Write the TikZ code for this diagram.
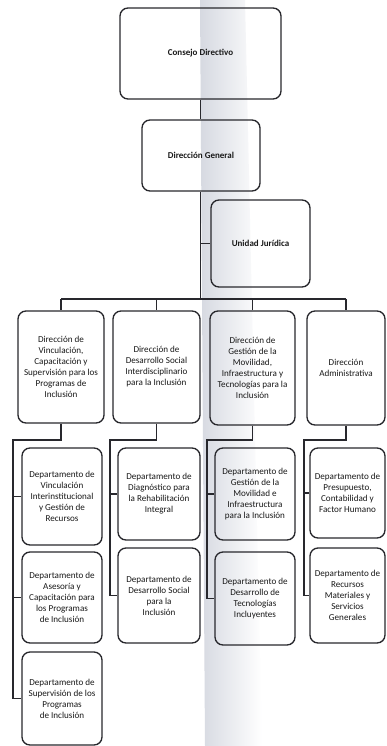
\documentclass[tikz,border=0pt]{standalone}
\usepackage{fontspec}
\setmainfont{Carlito}
\definecolor{bandcol}{RGB}{214,217,225}
\definecolor{inkcol}{RGB}{40,40,45}
\tikzset{
  box/.style={draw=inkcol, line width=1.35pt, rounded corners=8pt, align=center,
    inner sep=1pt, font=\fontsize{9.1}{11}\selectfont, text=black!90},
  topbox/.style={box, font=\bfseries\fontsize{9}{11}\selectfont},
  conn/.style={draw=inkcol, line width=1.25pt}
}
\newcommand{\bx}[7][box]{\node[#1, minimum width=#5pt, minimum height=#6pt] (#2) at (#3,#4) {#7};}
\begin{document}
\begin{tikzpicture}[x=1pt,y=-1pt]
\useasboundingbox (0,0) rectangle (387,746);
\fill[white] (0,0) rectangle (387,746);
\shade[left color=bandcol, right color=white] (200,0) -- (245,0) -- (262,746) -- (205,746) -- cycle;

\bx[topbox]{cd}{200.5}{53.5}{161}{91}{Consejo Directivo}
\bx[topbox]{dg}{201}{155.5}{118}{71}{Dirección General}
\bx[topbox]{uj}{260.5}{243.5}{99}{87}{Unidad Jurídica}

\bx{d1}{61}{367}{86}{112}{Dirección de\\Vinculación,\\Capacitación y\\Supervisión para los\\Programas de\\Inclusión}
\bx{d2}{156.5}{367}{87}{112}{Dirección de\\Desarrollo Social\\Interdisciplinario\\para la Inclusión}
\bx{d3}{252.5}{368}{85}{114}{Dirección de\\Gestión de la\\Movilidad,\\Infraestructura y\\Tecnologías para la\\Inclusión}
\bx{d4}{346}{368}{78}{114}{Dirección\\Administrativa}

\bx{c11}{62}{496.5}{80}{97}{Departamento de\\Vinculación\\Interinstitucional\\y Gestión de\\Recursos}
\bx{c12}{62}{597.5}{80}{91}{Departamento de\\Asesoría y\\Capacitación para\\los Programas\\de Inclusión}
\bx{c13}{62}{698.5}{80}{93}{Departamento de\\Supervisión de los\\Programas\\de Inclusión}
\bx{c21}{159}{494}{82}{92}{Departamento de\\Diagnóstico para\\la Rehabilitación\\Integral}
\bx{c22}{159}{595.5}{82}{95}{Departamento de\\Desarrollo Social\\para la\\Inclusión}
\bx{c31}{255}{494}{80}{92}{Departamento de\\Gestión de la\\Movilidad e\\Infraestructura\\para la Inclusión}
\bx{c32}{255}{598.5}{80}{93}{Departamento de\\Desarrollo de\\Tecnologías\\Incluyentes}
\bx{c41}{347.5}{493}{75}{90}{Departamento de\\Presupuesto,\\Contabilidad y\\Factor Humano}
\bx{c42}{347.5}{595.5}{75}{95}{Departamento de\\Recursos\\Materiales y\\Servicios\\Generales}

% trunk
\coordinate (busL) at (61,299);
\coordinate (busR) at (346,299);
\coordinate (busT) at (200.5,299);
\draw[conn] (cd.south) -- (cd.south |- dg.north);
\draw[conn] (cd.south |- dg.south) -- (busT);
\draw[conn] (cd.south |- uj.west) -- (uj.west);
\draw[conn] (busL) -- (busR);
\draw[conn] (busL) -- (d1.north);
\draw[conn] (d2.north |- busL) -- (d2.north);
\draw[conn] (d3.north |- busL) -- (d3.north);
\draw[conn] (busR) -- (d4.north);

% column 1
\coordinate (k1) at (13,440);
\draw[conn] (d1.south) |- (k1) -- (k1 |- c13.west) -- (c13.west);
\draw[conn] (k1 |- c11.west) -- (c11.west);
\draw[conn] (k1 |- c12.west) -- (c12.west);
% column 2
\coordinate (k2) at (110,440);
\draw[conn] (d2.south) |- (k2) -- (k2 |- c22.west) -- (c22.west);
\draw[conn] (k2 |- c21.west) -- (c21.west);
% column 3
\coordinate (k3) at (207,440);
\draw[conn] (d3.south) |- (k3) -- (k3 |- c32.west) -- (c32.west);
\draw[conn] (k3 |- c31.west) -- (c31.west);
% column 4
\coordinate (k4) at (304,440);
\draw[conn] (d4.south) |- (k4) -- (k4 |- c42.west) -- (c42.west);
\draw[conn] (k4 |- c41.west) -- (c41.west);
\end{tikzpicture}
\end{document}
